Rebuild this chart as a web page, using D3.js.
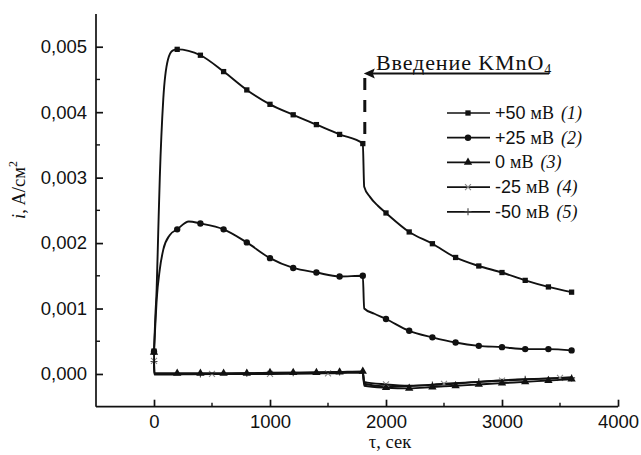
<!DOCTYPE html>
<html>
<head>
<meta charset="utf-8">
<script src="https://cdn.jsdelivr.net/npm/d3@7"></script>
<style>
  body { margin: 0; background: #fff; }
  svg { display: block; }
</style>
</head>
<body>
<div id="chart"></div>
<script>
// series: [time, s ; current density, A/cm2]
const s1 = [[0,0.00035],[12,0.0009],[23,0.0013],[37,0.0022],[50,0.003],[80,0.0042],[120,0.0048],[160,0.00494],[200,0.00496],
  [400,0.00487],[600,0.00462],[800,0.00434],[1000,0.00412],[1200,0.00396],[1400,0.00381],[1600,0.00366],[1800,0.00352],
  [1812,0.00286],[1860,0.00271],[1930,0.00257],[2000,0.00246],[2200,0.00217],[2400,0.00199],[2600,0.00178],[2800,0.00165],
  [3000,0.00155],[3200,0.00143],[3400,0.00133],[3600,0.00125]];
const s2 = [[0,0.00034],[10,0.0007],[23,0.00113],[50,0.0016],[80,0.0019],[135,0.00212],[200,0.00221],[300,0.00233],
  [400,0.0023],[600,0.00221],[800,0.00201],[1000,0.00177],[1200,0.00162],[1400,0.00155],[1600,0.00149],[1800,0.0015],
  [1812,0.001],[1900,0.00092],[2000,0.00084],[2200,0.00066],[2400,0.00056],[2600,0.00048],[2800,0.00043],[3000,0.00041],
  [3200,0.00038],[3400,0.00038],[3600,0.00036]];
const s3 = [[0,0.00033],[3,0.00001],[200,0.00001],[400,0.00001],[600,0.00001],[800,0.00001],[1000,0.00002],[1200,0.00002],
  [1400,0.00002],[1600,0.00003],[1800,0.00004],[1812,-0.00018],[2000,-0.00021],[2200,-0.00022],[2400,-0.0002],
  [2600,-0.00018],[2800,-0.00016],[3000,-0.00014],[3200,-0.00012],[3400,-0.0001],[3600,-0.00008]];
const s4 = [[0,0.0002],[3,-0.00001],[500,0],[1000,0],[1500,0.00001],[1800,0.00002],[1812,-0.00012],[2000,-0.00016],
  [2200,-0.00018],[2500,-0.00015],[3000,-0.0001],[3500,-0.00006],[3600,-0.00005]];
const s5 = [[0,0.00019],[3,0],[400,0],[800,0.00001],[1200,0.00002],[1600,0.00003],[1800,0.00003],[1812,-0.00015],
  [2000,-0.00019],[2400,-0.00017],[2800,-0.00012],[3200,-0.00008],[3600,-0.00006]];

const seriesLabels = ["+50", "+25", "0", "-25", "-50"];
const seriesNums = ["(1)", "(2)", "(3)", "(4)", "(5)"];
const markEvery = [200, 200, 200, 500, 400];
const xTicks = [0, 1000, 2000, 3000, 4000];
const yTicks = [0, 0.001, 0.002, 0.003, 0.004, 0.005];
const injectTime = 1800;

const width = 641, height = 455;
const sans = "'Liberation Sans', Arial, sans-serif";
const serif = "'Liberation Serif', 'Times New Roman', serif";

const svg = d3.select("#chart").append("svg")
    .attr("width", width)
    .attr("height", height);

svg.append("rect").attr("width", width).attr("height", height).attr("fill", "#fff");

const x = d3.scaleLinear().domain([-500, 4000]).range([96, 618]);
const y = d3.scaleLinear().domain([-0.0005, 0.0055]).range([406.7, 14]);

// axes (ticks drawn inward)
const xAxis = svg.append("g").attr("transform", `translate(0,${y.range()[0]})`)
    .call(d3.axisBottom(x).tickValues(xTicks).tickSize(-7).tickFormat(d3.format("d")))
    .call(g => g.select(".domain").attr("d", `M${x.range()[0]},0H${x.range()[1]}`));
xAxis.selectAll("text").attr("dy", null).attr("y", 21)
    .style("font-family", sans).style("font-size", "18.5px").attr("fill", "#111");

const fmtY = d => d3.format(".3f")(d).replace(".", ",");
const yAxis = svg.append("g").attr("transform", `translate(${x.range()[0]},0)`)
    .call(d3.axisLeft(y).tickValues(yTicks).tickSize(-7).tickFormat(fmtY))
    .call(g => g.select(".domain").attr("d", `M0,${y.range()[0]}V${y.range()[1]}`));
yAxis.selectAll("text").attr("x", -9)
    .style("font-family", sans).style("font-size", "18.5px").attr("fill", "#111");

[xAxis, yAxis].forEach(g => {
  g.select(".domain").attr("stroke-width", 1.7).attr("stroke", "#111");
  g.selectAll(".tick line").attr("stroke-width", 1.7).attr("stroke", "#111");
});

// minor ticks
svg.append("g").selectAll("line")
  .data([500, 1500, 2500, 3500])
  .join("line")
    .attr("x1", d => x(d)).attr("x2", d => x(d))
    .attr("y1", y.range()[0]).attr("y2", y.range()[0] - 4)
    .attr("stroke", "#111").attr("stroke-width", 1.4);
svg.append("g").selectAll("line")
  .data([0.0005, 0.0015, 0.0025, 0.0035, 0.0045])
  .join("line")
    .attr("x1", x.range()[0]).attr("x2", x.range()[0] + 4)
    .attr("y1", d => y(d)).attr("y2", d => y(d))
    .attr("stroke", "#111").attr("stroke-width", 1.4);

// axis titles
svg.append("text")
    .attr("x", 390).attr("y", 448)
    .attr("text-anchor", "middle")
    .style("font-family", serif).style("font-size", "18.5px").attr("fill", "#111")
    .text("τ, сек");

const yTitle = svg.append("text")
    .attr("transform", "translate(25,190) rotate(-90)")
    .attr("text-anchor", "middle")
    .style("font-family", serif).style("font-size", "18.5px").attr("fill", "#111");
yTitle.append("tspan").style("font-style", "italic").text("i");
yTitle.append("tspan").text(", A/см");
yTitle.append("tspan").attr("dy", -8).style("font-size", "12px").text("2");

// markers
const symbols = [
  d3.symbol().type(d3.symbolSquare).size(28),
  d3.symbol().type(d3.symbolCircle).size(32),
  d3.symbol().type(d3.symbolTriangle).size(30)
];
function drawMarker(g, i, px, py) {
  if (i < 3) {
    g.append("path").attr("d", symbols[i]()).attr("transform", `translate(${px},${py})`).attr("fill", "#111");
  } else if (i === 3) {
    g.append("path").attr("d", "M-3,-3L3,3M-3,3L3,-3").attr("transform", `translate(${px},${py})`)
      .attr("stroke", "#888").attr("stroke-width", 1.1).attr("fill", "none");
  } else {
    g.append("path").attr("d", "M-3.5,0H3.5M0,-3.5V3.5").attr("transform", `translate(${px},${py})`)
      .attr("stroke", "#444").attr("stroke-width", 1.1).attr("fill", "none");
  }
}

const allSeries = [s1, s2, s3, s4, s5];
const line = d3.line().x(d => x(d[0])).y(d => y(d[1])).curve(d3.curveMonotoneX);
const plot = svg.append("g");

allSeries.slice().reverse().forEach((s, ri) => {
  const i = allSeries.length - 1 - ri;
  plot.append("path").datum(s)
      .attr("d", line)
      .attr("fill", "none").attr("stroke", "#111").attr("stroke-width", 1.9);
  const mg = plot.append("g");
  s.filter(d => d[0] % markEvery[i] === 0).forEach(d => drawMarker(mg, i, x(d[0]), y(d[1])));
});

// injection annotation
const s1At = s1.find(d => d[0] === injectTime)[1];
const xi = x(injectTime) + 2;
svg.append("line")
    .attr("x1", xi).attr("x2", xi).attr("y1", 78).attr("y2", y(s1At))
    .attr("stroke", "#111").attr("stroke-width", 3).attr("stroke-dasharray", "12,10");
svg.append("line")
    .attr("x1", xi + 6).attr("x2", 549).attr("y1", 73.5).attr("y2", 73.5)
    .attr("stroke", "#111").attr("stroke-width", 2.2);
svg.append("path")
    .attr("d", `M${xi - 1},73.5L${xi + 10},68.5L${xi + 8},73.5L${xi + 10},78.5Z`)
    .attr("fill", "#111");
const ann = svg.append("text")
    .attr("x", 376).attr("y", 70)
    .style("font-family", serif).style("font-size", "22px").style("letter-spacing", "0.9px").attr("fill", "#111");
ann.append("tspan").text("Введение KMnO");
ann.append("tspan").attr("dy", 4).style("font-size", "14px").text("4");

// legend
const legend = svg.append("g");
seriesLabels.forEach((lab, i) => {
  const ly = 113 + i * 24.7;
  legend.append("line").attr("x1", 447).attr("x2", 490).attr("y1", ly).attr("y2", ly)
      .attr("stroke", "#111").attr("stroke-width", 1.7);
  drawMarker(legend, i, 468, ly);
  const t = legend.append("text").attr("x", 495).attr("y", ly + 6)
      .style("font-size", "18px").attr("fill", "#111");
  t.append("tspan").style("font-family", sans).text(lab);
  t.append("tspan").attr("dx", 5).style("font-family", serif).text("мВ");
  t.append("tspan").attr("dx", 7).style("font-family", serif).style("font-style", "italic").text(seriesNums[i]);
});
</script>
</body>
</html>
